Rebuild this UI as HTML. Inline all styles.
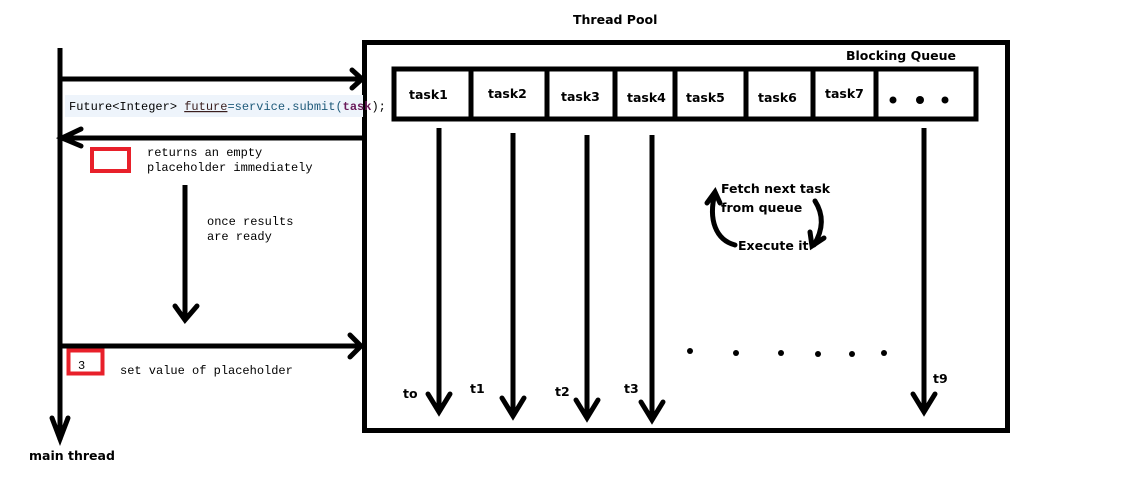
<!DOCTYPE html>
<html><head><meta charset="utf-8"><style>
html,body{margin:0;padding:0;background:#fff;}
svg{display:block;}
.b{font-family:"DejaVu Sans","Liberation Sans",sans-serif;font-weight:bold;font-size:12.5px;fill:#000;}
.m{font-family:"Liberation Mono",monospace;font-size:12px;fill:#000;}
</style></head><body>
<svg width="1125" height="478" viewBox="0 0 1125 478" xmlns="http://www.w3.org/2000/svg">
<g stroke="#000" stroke-width="5" fill="none" stroke-linecap="butt">
<line x1="60" y1="48" x2="60" y2="440"/>
<polyline points="52,418 60,439 68,418" stroke-linecap="round"/>
<rect x="364.5" y="42.5" width="643" height="388"/>
<rect x="394" y="69" width="582" height="50"/>
<line x1="471" y1="69" x2="471" y2="119"/>
<line x1="547" y1="69" x2="547" y2="119"/>
<line x1="615" y1="69" x2="615" y2="119"/>
<line x1="675" y1="69" x2="675" y2="119"/>
<line x1="746" y1="69" x2="746" y2="119"/>
<line x1="813" y1="69" x2="813" y2="119"/>
<line x1="876" y1="69" x2="876" y2="119"/>
<line x1="60" y1="79" x2="363" y2="79"/>
<polyline points="352,70 362,79 352,88" stroke-linecap="round"/>
<line x1="60" y1="138" x2="363" y2="138"/>
<polyline points="81,129 62,138 81,146" stroke-linecap="round"/>
<line x1="60" y1="346" x2="363" y2="346"/>
<polyline points="350,335 361,346 350,357" stroke-linecap="round"/>
<line x1="185" y1="185" x2="185" y2="320"/>
<polyline points="175,306 185,320 197,306" stroke-linecap="round"/>
<line x1="439" y1="128" x2="439" y2="412"/>
<polyline points="428,394 439,412 450,394" stroke-linecap="round"/>
<line x1="513" y1="133" x2="513" y2="416"/>
<polyline points="502,398 513,416 524,398" stroke-linecap="round"/>
<line x1="587" y1="135" x2="587" y2="418"/>
<polyline points="576,400 587,418 598,400" stroke-linecap="round"/>
<line x1="652" y1="135" x2="652" y2="420"/>
<polyline points="641,402 652,420 663,402" stroke-linecap="round"/>
<line x1="924" y1="128" x2="924" y2="412"/>
<polyline points="913,394 924,412 935,394" stroke-linecap="round"/>
<path d="M735,245 C716,240 708,220 715,193" stroke-linecap="round"/>
<polyline points="707,203 715,192 720,203" stroke-linecap="round"/>
<path d="M815,201 C824,215 823,230 814,245" stroke-linecap="round"/>
<polyline points="810,232 812,246 824,238" stroke-linecap="round"/>
</g>
<rect x="65" y="95" width="298" height="22" fill="#eef4fb"/>
<text x="69" y="110" class="m" font-size="11.6">Future&lt;Integer&gt; <tspan fill="#3a1f1f" text-decoration="underline">future</tspan><tspan fill="#1e5a7a">=service.submit(</tspan><tspan fill="#6a1a5a" font-weight="bold">task</tspan>);</text>
<rect x="92" y="149" width="37" height="22" fill="none" stroke="#e8202a" stroke-width="4"/>
<rect x="68.5" y="350.5" width="34" height="23" fill="none" stroke="#e8202a" stroke-width="4"/>
<text x="78" y="369" class="m" font-size="11">3</text>
<text x="147" y="156" class="m">returns an empty</text>
<text x="147" y="171" class="m">placeholder immediately</text>
<text x="207" y="225" class="m">once results</text>
<text x="207" y="240" class="m">are ready</text>
<text x="120" y="374" class="m">set value of placeholder</text>
<text x="573" y="24" class="b">Thread Pool</text>
<text x="846" y="60" class="b" font-size="10.5">Blocking Queue</text>
<text x="409" y="99" class="b">task1</text>
<text x="488" y="98" class="b">task2</text>
<text x="561" y="101" class="b">task3</text>
<text x="627" y="102" class="b">task4</text>
<text x="686" y="102" class="b">task5</text>
<text x="758" y="102" class="b">task6</text>
<text x="825" y="98" class="b">task7</text>
<text x="721" y="193" class="b">Fetch next task</text>
<text x="721" y="212" class="b">from queue</text>
<text x="738" y="250" class="b">Execute it</text>
<text x="403" y="398" class="b">to</text>
<text x="470" y="393" class="b">t1</text>
<text x="555" y="396" class="b">t2</text>
<text x="624" y="393" class="b">t3</text>
<text x="933" y="383" class="b">t9</text>
<text x="29" y="460" class="b">main thread</text>
<g fill="#000">
<circle cx="893" cy="100" r="3.5"/><circle cx="920" cy="100" r="4"/><circle cx="945" cy="100" r="3.5"/>
<circle cx="690" cy="351" r="3"/><circle cx="736" cy="353" r="3"/><circle cx="781" cy="353" r="3"/>
<circle cx="818" cy="354" r="3"/><circle cx="852" cy="354" r="3"/><circle cx="884" cy="353" r="3"/>
</g>
</svg>
</body></html>
